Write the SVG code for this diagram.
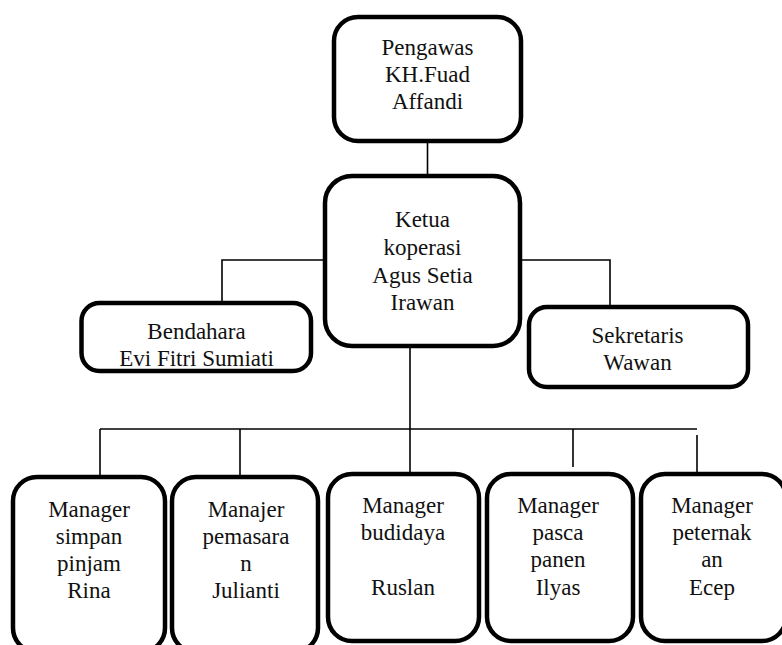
<svg xmlns="http://www.w3.org/2000/svg" width="782" height="645" viewBox="0 0 782 645">
<style>
.box{fill:#fff;stroke:#000;stroke-width:4.5}
.ln{fill:none;stroke:#000;stroke-width:1.6}
.t{font-family:'Liberation Serif','DejaVu Serif',serif;font-size:23px;fill:#111;text-anchor:middle}
</style>
<rect width="782" height="645" fill="#fff"/>
<g id="connectors">
<line class="ln" x1="427.5" y1="141" x2="427.5" y2="176"/>
<polyline class="ln" points="325,260 222,260 222,301"/>
<polyline class="ln" points="520,260 610,260 610,305"/>
<line class="ln" x1="410" y1="346" x2="410" y2="474"/>
<line class="ln" x1="100" y1="429" x2="697" y2="429"/>
<line class="ln" x1="100" y1="429" x2="100" y2="477"/>
<line class="ln" x1="240" y1="429" x2="240" y2="477"/>
<line class="ln" x1="573" y1="429" x2="573" y2="467"/>
<line class="ln" x1="697" y1="435" x2="697" y2="474"/>
</g>
<g id="pengawas">
<rect class="box" x="334" y="17" width="187" height="124" rx="24"/>
<text class="t" font-family="Liberation Serif, serif" x="427.5" y="55">Pengawas</text>
<text class="t" x="427.5" y="82">KH.Fuad</text>
<text class="t" x="427.5" y="109">Affandi</text>
</g>
<g id="ketua">
<rect class="box" x="325" y="176" width="195" height="170" rx="27"/>
<text class="t" x="422.5" y="227">Ketua</text>
<text class="t" x="422.5" y="255">koperasi</text>
<text class="t" x="422.5" y="283">Agus Setia</text>
<text class="t" x="422.5" y="310">Irawan</text>
</g>
<g id="bendahara">
<rect class="box" x="81.5" y="303" width="229.5" height="68" rx="18"/>
<text class="t" x="196.5" y="339">Bendahara</text>
<text class="t" x="196.5" y="366">Evi Fitri Sumiati</text>
</g>
<g id="sekretaris">
<rect class="box" x="529" y="307" width="219" height="80" rx="18"/>
<text class="t" x="637.5" y="343">Sekretaris</text>
<text class="t" x="637.5" y="370">Wawan</text>
</g>
<g id="mgr-simpan-pinjam">
<rect class="box" x="13" y="477" width="152" height="175" rx="24"/>
<text class="t" x="89" y="517">Manager</text>
<text class="t" x="89" y="544">simpan</text>
<text class="t" x="89" y="571">pinjam</text>
<text class="t" x="89" y="598">Rina</text>
</g>
<g id="mgr-pemasaran">
<rect class="box" x="172" y="477" width="146" height="175" rx="24"/>
<text class="t" x="246" y="517">Manajer</text>
<text class="t" x="246" y="544">pemasara</text>
<text class="t" x="246" y="571">n</text>
<text class="t" x="246" y="598">Julianti</text>
</g>
<g id="mgr-budidaya">
<rect class="box" x="328" y="474" width="151" height="167" rx="24"/>
<text class="t" x="403" y="513">Manager</text>
<text class="t" x="403" y="540">budidaya</text>
<text class="t" x="403" y="595">Ruslan</text>
</g>
<g id="mgr-pasca-panen">
<rect class="box" x="487" y="474" width="146" height="167" rx="24"/>
<text class="t" x="558" y="513">Manager</text>
<text class="t" x="558" y="540">pasca</text>
<text class="t" x="558" y="567">panen</text>
<text class="t" x="558" y="595">Ilyas</text>
</g>
<g id="mgr-peternakan">
<rect class="box" x="641" y="474" width="145" height="167" rx="24"/>
<text class="t" x="712" y="513">Manager</text>
<text class="t" x="712" y="540">peternak</text>
<text class="t" x="712" y="567">an</text>
<text class="t" x="712" y="595">Ecep</text>
</g>
</svg>
